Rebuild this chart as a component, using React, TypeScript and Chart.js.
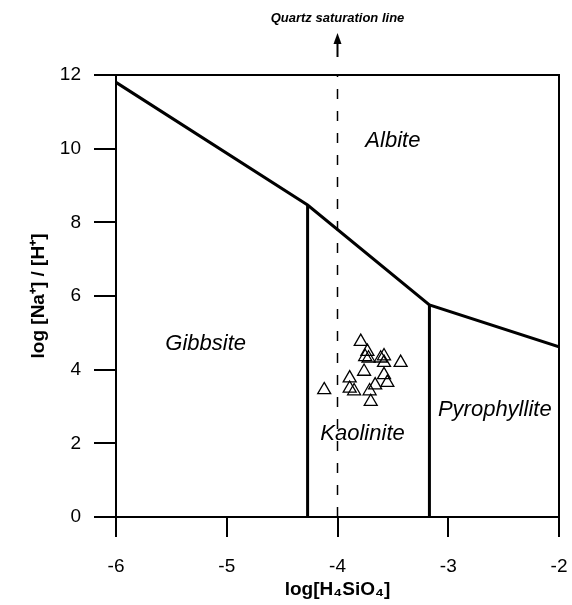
import React, { useEffect, useRef } from "react";
import { Chart, registerables } from "chart.js";
Chart.register(...registerables);

// Axis ticks
const xTicks = [-6, -5, -4, -3, -2];
const yTicks = [0, 2, 4, 6, 8, 10, 12];

// Sample points: log[H4SiO4] vs log [Na+]/[H+]
const sampleX = [-3.79, -3.73, -3.75, -3.72, -3.61, -3.58, -3.58, -3.43, -3.76, -3.89, -3.58, -3.55, -3.66, -3.89, -3.85, -4.12, -3.71, -3.70];
const sampleY = [4.76, 4.49, 4.35, 4.31, 4.31, 4.37, 4.19, 4.19, 3.95, 3.77, 3.86, 3.65, 3.58, 3.49, 3.42, 3.45, 3.42, 3.13];

// Stability field boundaries
const albiteBoundaryX = [-6, -4.27, -3.17, -2];
const albiteBoundaryY = [11.8, 8.47, 5.76, 4.62];
const gibbsiteKaoliniteX = [-4.27, -4.27];
const gibbsiteKaoliniteY = [0, 8.47];
const kaolinitePyrophylliteX = [-3.17, -3.17];
const kaolinitePyrophylliteY = [0, 5.76];
const quartzX = [-4, -4];
const quartzY = [0, 12];

// Field labels
const regionNames = ["Albite", "Gibbsite", "Kaolinite", "Pyrophyllite"];
const regionX = [-3.50, -5.19, -3.774, -2.58];
const regionY = [10.21, 4.70, 2.25, 2.91];

const quartzLabel = "Quartz saturation line";
const xTitle = "log[H\u2084SiO\u2084]";
const yTitle = "log [Na\u207A] / [H\u207A]";

const FONT = "'Liberation Sans', Arial, Helvetica, sans-serif";

const toPts = (xs: number[], ys: number[]) => xs.map((x, i) => ({ x, y: ys[i] }));

const annotations = {
  id: "annotations",
  afterDatasetsDraw(chart: any) {
    const { ctx, chartArea, scales } = chart;
    const xs = scales.x;
    const ys = scales.y;
    ctx.save();
    // top & right frame
    ctx.strokeStyle = "#000";
    ctx.lineWidth = 2;
    ctx.beginPath();
    ctx.moveTo(chartArea.left, chartArea.top);
    ctx.lineTo(chartArea.right, chartArea.top);
    ctx.lineTo(chartArea.right, chartArea.bottom);
    ctx.stroke();
    // arrow for quartz saturation line
    const qx = xs.getPixelForValue(quartzX[0]);
    const top = chartArea.top;
    ctx.lineWidth = 2;
    ctx.beginPath();
    ctx.moveTo(qx, top - 18);
    ctx.lineTo(qx, top - 34);
    ctx.stroke();
    ctx.fillStyle = "#000";
    ctx.beginPath();
    ctx.moveTo(qx, top - 42);
    ctx.lineTo(qx - 4, top - 31);
    ctx.lineTo(qx + 4, top - 31);
    ctx.closePath();
    ctx.fill();
    ctx.font = `italic bold 13px ${FONT}`;
    ctx.textAlign = "center";
    ctx.textBaseline = "middle";
    ctx.fillText(quartzLabel, qx, 18);
    // region labels
    ctx.font = `italic 22px ${FONT}`;
    regionNames.forEach((name, i) => {
      ctx.fillText(name, xs.getPixelForValue(regionX[i]), ys.getPixelForValue(regionY[i]));
    });
    ctx.restore();
  },
};

export default function App() {
  const ref = useRef<HTMLCanvasElement>(null);
  useEffect(() => {
    if (!ref.current) return;
    const lineDs = (xs: number[], ys: number[], extra: any = {}) => ({
      type: "line" as const,
      data: toPts(xs, ys),
      borderColor: "#000",
      borderWidth: 3,
      pointRadius: 0,
      showLine: true,
      fill: false,
      tension: 0,
      ...extra,
    });
    const chart = new Chart(ref.current, {
      type: "scatter",
      data: {
        datasets: [
          lineDs(albiteBoundaryX, albiteBoundaryY),
          lineDs(gibbsiteKaoliniteX, gibbsiteKaoliniteY),
          lineDs(kaolinitePyrophylliteX, kaolinitePyrophylliteY),
          lineDs(quartzX, quartzY, { borderWidth: 1.5, borderDash: [10, 12] }),
          {
            type: "scatter" as const,
            data: toPts(sampleX, sampleY),
            pointStyle: "triangle",
            pointRadius: 7.5,
            borderColor: "#000",
            borderWidth: 1.3,
            backgroundColor: "rgba(255,255,255,0)",
          } as any,
        ],
      },
      options: {
        responsive: false,
        animation: false,
        devicePixelRatio: 1,
        layout: { padding: { top: 75, right: 13, left: 0, bottom: 0 } },
        plugins: { legend: { display: false }, tooltip: { enabled: false } },
        scales: {
          x: {
            type: "linear",
            min: -6,
            max: -2,
            afterBuildTicks: (s: any) => {
              s.ticks = xTicks.map((v) => ({ value: v }));
            },
            afterFit: (s: any) => {
              s.height = 88;
              s.paddingLeft = 0;
              s.paddingRight = 0;
            },
            ticks: { color: "#000", font: { family: FONT, size: 19 }, padding: 18 },
            grid: { drawOnChartArea: false, drawTicks: true, tickLength: 20, color: "#000", lineWidth: 2 },
            border: { display: true, color: "#000", width: 2 },
            title: {
              display: true,
              text: xTitle,
              color: "#000",
              font: { family: FONT, size: 19, weight: "bold" },
              padding: { top: 0, bottom: 4 },
            },
          },
          y: {
            type: "linear",
            min: 0,
            max: 12,
            afterBuildTicks: (s: any) => {
              s.ticks = yTicks.map((v) => ({ value: v }));
            },
            afterFit: (s: any) => {
              s.width = 116;
              s.paddingTop = 0;
              s.paddingBottom = 0;
            },
            ticks: { color: "#000", font: { family: FONT, size: 19 }, padding: 13 },
            grid: { drawOnChartArea: false, drawTicks: true, tickLength: 22, color: "#000", lineWidth: 2 },
            border: { display: true, color: "#000", width: 2 },
            title: {
              display: true,
              text: yTitle,
              color: "#000",
              font: { family: FONT, size: 19, weight: "bold" },
              padding: { top: 27, bottom: 0 },
            },
          },
        },
      } as any,
      plugins: [annotations],
    });
    return () => chart.destroy();
  }, []);
  return (
    <div style={{ position: "absolute", left: 0, top: 0, width: 572, height: 605, background: "#fff" }}>
      <canvas ref={ref} width={572} height={605} />
    </div>
  );
}
